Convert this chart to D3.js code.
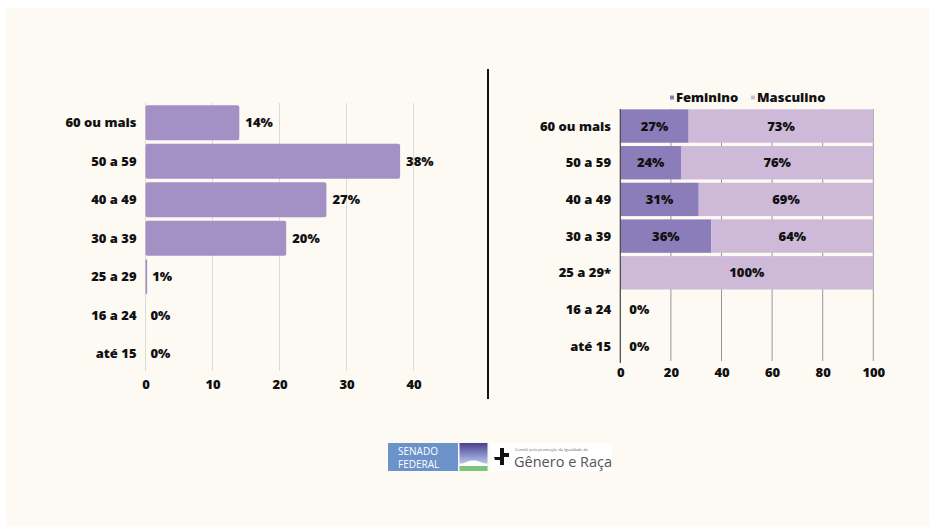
<!DOCTYPE html>
<html><head><meta charset="utf-8">
<script src="https://cdn.jsdelivr.net/npm/d3@7"></script>
<style>
html,body{margin:0;padding:0;background:#fff;}
svg{display:block;}
text.b{font-family:"Open Sans","Noto Sans",sans-serif;font-weight:800;fill:#111;font-size:13px;}
text.logo{font-family:"Open Sans","Noto Sans",sans-serif;font-weight:400;}
</style></head>
<body>
<svg id="c" width="929" height="526"></svg>
<script>
const categories = ["60 ou mais","50 a 59","40 a 49","30 a 39","25 a 29","16 a 24","até 15"];
const categoriesRight = ["60 ou mais","50 a 59","40 a 49","30 a 39","25 a 29*","16 a 24","até 15"];
const totalValues = [14, 38, 27, 21, 0.25, 0, 0];
const totalLabels = ["14%","38%","27%","20%","1%","0%","0%"];
const femininoValues = [27, 24, 31, 36, 0, 0, 0];
const masculinoValues = [73, 76, 69, 64, 100, 0, 0];
const leftTicks = [0, 10, 20, 30, 40];
const rightTicks = [0, 20, 40, 60, 80, 100];
const seriesNames = ["Feminino", "Masculino"];

const svg = d3.select("#c");
svg.append("rect").attr("x",6).attr("y",8).attr("width",923).attr("height",518).attr("fill","#fdfaf4");

// ---------- Left chart ----------
const xL = d3.scaleLinear().domain([0,40]).range([145.5,413.5]);
const yL = d3.scaleBand().domain(categories).range([103.5,373]).paddingInner(0.09).paddingOuter(0.045);
const gL = svg.append("g");
gL.selectAll("line.grid").data(leftTicks).join("line")
  .attr("x1",d=>xL(d)).attr("x2",d=>xL(d)).attr("y1",103).attr("y2",371)
  .attr("stroke","#dcdad6").attr("stroke-width",1);
gL.selectAll("rect.bar").data(categories).join("rect")
  .attr("x",xL(0)).attr("y",d=>yL(d))
  .attr("width",(d,i)=>Math.max(0,xL(totalValues[i])-xL(0)))
  .attr("height",yL.bandwidth()).attr("rx",2).attr("fill","#a390c4");
gL.selectAll("text.val").data(categories).join("text").attr("class","b")
  .attr("x",(d,i)=>xL(totalValues[i])+ (totalValues[i]>0.5?6:5))
  .attr("y",d=>yL(d)+yL.bandwidth()/2).attr("dy","0.35em")
  .text((d,i)=>totalLabels[i]);
gL.selectAll("text.cat").data(categories).join("text").attr("class","b")
  .attr("x",136.5).attr("y",d=>yL(d)+yL.bandwidth()/2).attr("dy","0.35em")
  .attr("text-anchor","end").text(d=>d);
const axL = d3.axisBottom(xL).tickValues(leftTicks).tickSize(0).tickPadding(0);
const axLg = svg.append("g").attr("transform","translate(0,380)").call(axL);
axLg.select(".domain").remove();
axLg.selectAll("text").attr("class","b").attr("font-size",null).attr("font-family",null).attr("fill",null).attr("dy","0.71em");

// divider
svg.append("line").attr("x1",488).attr("x2",488).attr("y1",69).attr("y2",399).attr("stroke","#111").attr("stroke-width",2);

// ---------- Right chart ----------
const xR = d3.scaleLinear().domain([0,100]).range([620.3,873.3]);
const yR = d3.scaleBand().domain(categoriesRight).range([107.7,364.5]).paddingInner(0.09).paddingOuter(0.045);
const gR = svg.append("g");
gR.selectAll("line.grid").data(rightTicks.slice(1)).join("line")
  .attr("x1",d=>xR(d)).attr("x2",d=>xR(d)).attr("y1",109).attr("y2",361)
  .attr("stroke","#9a9694").attr("stroke-width",1);
const colors = {Feminino:"#8a7db9", Masculino:"#cfb9d9"};
categoriesRight.forEach((c,i)=>{
  const f = femininoValues[i], m = masculinoValues[i];
  if (f>0) gR.append("rect").attr("x",xR(0)).attr("y",yR(c)).attr("width",xR(f)-xR(0)).attr("height",yR.bandwidth()).attr("fill",colors.Feminino);
  if (m>0) gR.append("rect").attr("x",xR(f)).attr("y",yR(c)).attr("width",xR(f+m)-xR(f)).attr("height",yR.bandwidth()).attr("fill",colors.Masculino);
  const cy = yR(c)+yR.bandwidth()/2;
  if (f>0) gR.append("text").attr("class","b").attr("x",(xR(0)+xR(f))/2).attr("y",cy).attr("dy","0.35em").attr("text-anchor","middle").text(f+"%");
  if (m>0) gR.append("text").attr("class","b").attr("x",(xR(f)+xR(f+m))/2).attr("y",cy).attr("dy","0.35em").attr("text-anchor","middle").text(m+"%");
  if (f===0 && m===0) gR.append("text").attr("class","b").attr("x",xR(0)+9).attr("y",cy).attr("dy","0.35em").text("0%");
});
gR.append("line").attr("x1",xR(0)).attr("x2",xR(0)).attr("y1",109).attr("y2",363).attr("stroke","#444").attr("stroke-width",1.2);
gR.selectAll("text.cat").data(categoriesRight).join("text").attr("class","b")
  .attr("x",611).attr("y",d=>yR(d)+yR.bandwidth()/2).attr("dy","0.35em")
  .attr("text-anchor","end").text(d=>d);
const axR = d3.axisBottom(xR).tickValues(rightTicks).tickSize(0).tickPadding(0);
const axRg = svg.append("g").attr("transform","translate(0,368)").call(axR);
axRg.select(".domain").remove();
axRg.selectAll("text").attr("class","b").attr("font-size",null).attr("font-family",null).attr("fill",null).attr("dy","0.71em");

// legend
const legX = [670, 751];
seriesNames.forEach((s,i)=>{
  svg.append("rect").attr("x",legX[i]).attr("y",95.5).attr("width",4).attr("height",4).attr("fill",colors[s]);
  svg.append("text").attr("class","b").attr("x",legX[i]+6).attr("y",97.5).attr("dy","0.35em").text(s);
});

// ---------- Logos ----------
const lg = svg.append("g");
lg.append("rect").attr("x",388).attr("y",443).attr("width",70).attr("height",28).attr("fill","#6b93c9");
lg.append("text").attr("class","logo").attr("x",398).attr("y",455).attr("font-size",10).attr("fill","#fff").text("SENADO");
lg.append("text").attr("class","logo").attr("x",398).attr("y",467.5).attr("font-size",10).attr("fill","#fff").text("FEDERAL");
const defs = svg.append("defs");
const grad = defs.append("linearGradient").attr("id","sky").attr("x1",0).attr("y1",0).attr("x2",0).attr("y2",1);
grad.append("stop").attr("offset","0%").attr("stop-color","#4a3f8e");
grad.append("stop").attr("offset","55%").attr("stop-color","#9aa6d8");
grad.append("stop").attr("offset","100%").attr("stop-color","#e8eef8");
lg.append("rect").attr("x",459.5).attr("y",443).attr("width",28).attr("height",28).attr("fill","url(#sky)");
lg.append("path").attr("d","M459.5,466 Q473,455 487.5,466 Z").attr("fill","#fff");
lg.append("rect").attr("x",459.5).attr("y",463.5).attr("width",28).attr("height",2.5).attr("fill","#fff");
lg.append("rect").attr("x",459.5).attr("y",466).attr("width",28).attr("height",5).attr("fill","#7cc47a");
lg.append("rect").attr("x",491).attr("y",443).attr("width",121).attr("height",28).attr("fill","#fff");
lg.append("path").attr("d","M500,448 h4 v5 h5 v4 h-5 v8 h-4 v-5 h-5 l-1,-3 h6 z").attr("fill","#111");
lg.append("text").attr("class","logo").attr("x",515).attr("y",451).attr("font-size",4).attr("fill","#666").text("Comitê pela promoção da Igualdade de");
lg.append("text").attr("class","logo").attr("x",514).attr("y",467).attr("font-size",14.5).attr("fill","#555").text("Gênero e Raça");
</script>
</body></html>
